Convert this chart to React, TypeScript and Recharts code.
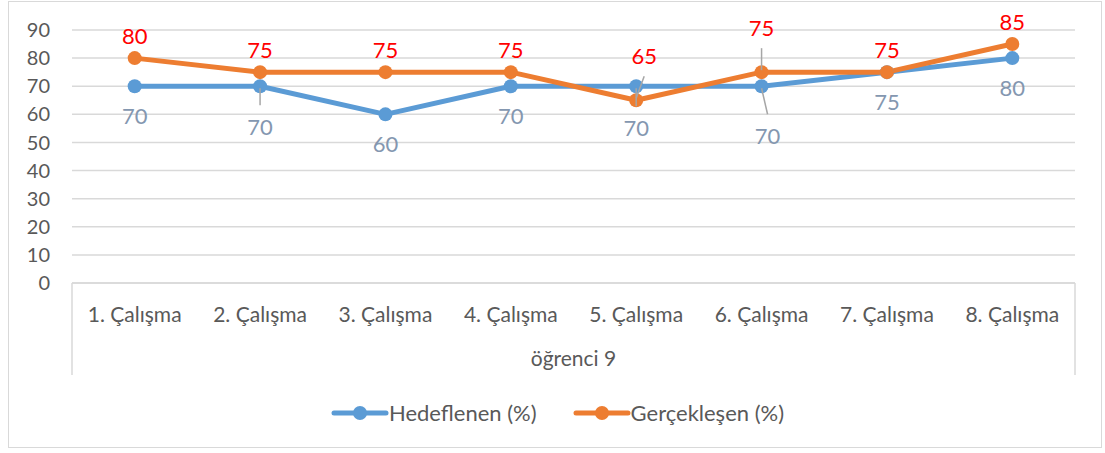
import React from 'react';
import { LineChart, Line, XAxis, YAxis, CartesianGrid, Legend, LabelList } from 'recharts';

const categories = ['1. Çalışma', '2. Çalışma', '3. Çalışma', '4. Çalışma', '5. Çalışma', '6. Çalışma', '7. Çalışma', '8. Çalışma'];
const hedeflenen = [70, 70, 60, 70, 70, 70, 75, 80];
const gerceklesen = [80, 75, 75, 75, 65, 75, 75, 85];
const yTicks = [0, 10, 20, 30, 40, 50, 60, 70, 80, 90];
const groupLabel = 'öğrenci 9';
const seriesNames = ['Hedeflenen (%)', 'Gerçekleşen (%)'];

const data = categories.map((name, i) => ({ name, hedef: hedeflenen[i], gercek: gerceklesen[i] }));

const FONT = 'Lato, "Open Sans", sans-serif';
const BLUE = '#5B9BD5';
const ORANGE = '#ED7D31';
const GRID = '#D9D9D9';
const TEXT = '#595959';
const PLOT_W = 1003;
const HALF_BAND = PLOT_W / categories.length / 2;

// label placement tweaks (Excel moved a few labels and drew leader lines)
type Shift = { dx: number; dy: number; leader?: boolean };
const blueShifts: Record<number, Shift> = {
  1: { dx: 0, dy: 40, leader: true },
  4: { dx: 0, dy: 41, leader: true },
  5: { dx: 6, dy: 49, leader: true },
};
const orangeShifts: Record<number, Shift> = {
  4: { dx: 8, dy: -45, leader: true },
  5: { dx: 0, dy: -45, leader: true },
};

function makeLabel(color: string, baseDy: number, shifts: Record<number, Shift>) {
  return (props: any) => {
    const { x, y, value, index } = props;
    const s = shifts[index];
    const tx = x + (s ? s.dx : 0);
    const ty = y + (s ? s.dy : baseDy);
    const sign = ty > y ? 1 : -1;
    return (
      <g>
        {s && s.leader && (
          <line x1={x} y1={y + sign * 2} x2={tx} y2={ty - sign * 21} stroke="#A6A6A6" strokeWidth={1.5} />
        )}
        <text x={tx} y={ty} textAnchor="middle" dominantBaseline="central" fill={color} fontSize={22} fontFamily={FONT}>
          {value}
        </text>
      </g>
    );
  };
}

function CategoryTick(props: any) {
  const { x, y, payload, index, visibleTicksCount } = props;
  const top = y - 8;
  return (
    <g>
      <text x={x} y={y + 22} textAnchor="middle" dominantBaseline="central" fill={TEXT} fontSize={21} fontFamily={FONT}>
        {payload.value}
      </text>
      {index === 0 && <line x1={x - HALF_BAND} y1={top} x2={x - HALF_BAND} y2={top + 92} stroke={GRID} strokeWidth={1.5} />}
      {index === visibleTicksCount - 1 && (
        <line x1={x + HALF_BAND} y1={top} x2={x + HALF_BAND} y2={top + 92} stroke={GRID} strokeWidth={1.5} />
      )}
    </g>
  );
}

function LegendContent() {
  const colors = [BLUE, ORANGE];
  return (
    <div
      style={{
        display: 'flex',
        justifyContent: 'center',
        alignItems: 'center',
        gap: 36,
        paddingLeft: 30,
        fontFamily: FONT,
        fontSize: 22,
        color: TEXT,
      }}
    >
      {seriesNames.map((n, i) => (
        <div key={n} style={{ display: 'flex', alignItems: 'center' }}>
          <svg width={58} height={18}>
            <line x1={3} x2={55} y1={9} y2={9} stroke={colors[i]} strokeWidth={5} strokeLinecap="round" />
            <circle cx={29} cy={9} r={7} fill={colors[i]} />
          </svg>
          <span>{n}</span>
        </div>
      ))}
    </div>
  );
}

export default function App() {
  return (
    <div style={{ position: 'absolute', left: 0, top: 0, width: 1105, height: 453, background: '#fff' }}>
      <div
        style={{
          position: 'absolute',
          left: 8,
          top: 1,
          width: 1094,
          height: 447,
          border: `1.5px solid ${GRID}`,
          boxSizing: 'border-box',
        }}
      />
      <div style={{ position: 'absolute', left: 0, top: 0 }}>
        <LineChart width={1105} height={453} data={data} margin={{ top: 30, right: 30, left: 10, bottom: 30 }}>
          <CartesianGrid horizontal vertical={false} stroke={GRID} strokeWidth={1.5} />
          <XAxis
            dataKey="name"
            height={116}
            padding={{ left: HALF_BAND, right: HALF_BAND }}
            axisLine={{ stroke: GRID, strokeWidth: 1.5 }}
            tickLine={false}
            interval={0}
            tick={<CategoryTick />}
            label={{ value: groupLabel, position: 'insideTop', offset: 68, fill: TEXT, fontSize: 21, fontFamily: FONT }}
          />
          <YAxis
            width={62}
            domain={[0, 90]}
            ticks={yTicks}
            interval={0}
            axisLine={false}
            tickLine={false}
            tickMargin={16}
            tick={{ fill: TEXT, fontSize: 20, fontFamily: FONT }}
          />
          <Legend verticalAlign="bottom" height={24} content={<LegendContent />} />
          <Line
            dataKey="hedef"
            name={seriesNames[0]}
            stroke={BLUE}
            strokeWidth={5}
            strokeLinejoin="round"
            dot={{ r: 7, fill: BLUE, stroke: BLUE, strokeWidth: 0 }}
            activeDot={false}
            isAnimationActive={false}
          >
            <LabelList dataKey="hedef" content={makeLabel('#8497B0', 29, blueShifts)} />
          </Line>
          <Line
            dataKey="gercek"
            name={seriesNames[1]}
            stroke={ORANGE}
            strokeWidth={5}
            strokeLinejoin="round"
            dot={{ r: 7, fill: ORANGE, stroke: ORANGE, strokeWidth: 0 }}
            activeDot={false}
            isAnimationActive={false}
          >
            <LabelList dataKey="gercek" content={makeLabel('#FF0000', -23, orangeShifts)} />
          </Line>
        </LineChart>
      </div>
    </div>
  );
}
